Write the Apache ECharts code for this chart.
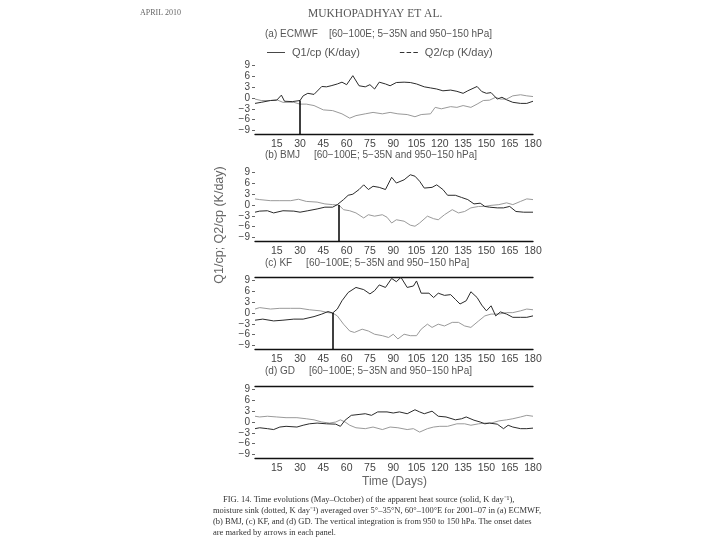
<!DOCTYPE html>
<html><head><meta charset="utf-8">
<script src="https://cdn.jsdelivr.net/npm/echarts/dist/echarts.min.js"></script>
<style>html,body{margin:0;padding:0;background:#fff;}#c{width:720px;height:540px;}</style>
</head><body><div id="c"></div>
<script>
// ---- data (days since 1 May, K/day) ----
const xTicks = [15,30,45,60,75,90,105,120,135,150,165,180];
const yTicks = [-9,-6,-3,0,3,6,9];
const panelTitles = [
  "(a) ECMWF    [60\u2212100E; 5\u221235N and 950\u2212150 hPa]",
  "(b) BMJ     [60\u2212100E; 5\u221235N and 950\u2212150 hPa]",
  "(c) KF     [60\u2212100E; 5\u221235N and 950\u2212150 hPa]",
  "(d) GD     [60\u2212100E; 5\u221235N and 950\u2212150 hPa]"
];
const onsetDays = [30, 55, 51, null];
const onsetStart = [-0.7, 0, 0, null];

const aQ1Days = [1,5,11,15,18,20,25,30,32,35,39,44,47,50,54,57,60,64,68,72,75,78,81,85,88,92,97,101,105,110,114,118,122,127,131,135,138,144,147,150,153,157,160,163,167,172,176,180];
const aQ1 = [-1.5,-1.2,-0.7,-0.6,0.8,-0.9,-1,-0.7,0.6,1.3,1,3.2,3.1,3.4,3.9,4.4,3.7,6.2,3.4,3.1,3.7,2.5,4.4,3.9,3.4,4.3,4.4,4.3,3.9,3.1,2.8,2.5,2,2.2,1.85,1.3,2,3.2,1.8,1.3,1.5,-0.3,0.2,-0.5,-1.2,-1.5,-1.5,-0.9];
const aQ2Days = [1,5,11,15,19,26,30,34,39,45,51,57,62,66,72,77,83,88,93,99,104,108,114,117,121,127,131,135,140,144,148,152,156,159,163,167,172,176,180];
const aQ2 = [-0.3,-0.7,-0.7,-0.5,-1.2,-1.2,-1.7,-1.7,-2.1,-3.3,-3.5,-4.4,-5.6,-4.9,-4.4,-4,-4.4,-4,-4.4,-4.6,-5.2,-4.6,-4.4,-2.6,-3,-2.4,-2.6,-2.1,-2.6,-1.7,-0.7,-0.6,0.2,-0.3,-0.3,0.6,0.9,0.6,0.4];

const bQ1Days = [1,4,9,13,19,26,30,35,41,46,51,54,58,61,64,68,71,74,77,81,85,89,92,97,101,104,107,110,115,118,122,125,130,134,138,142,146,149,152,157,161,165,169,174,180];
const bQ1 = [-2,-1.7,-1.6,-2.2,-1.6,-1.7,-2,-1.6,-1.1,-0.6,-0.6,0.1,1.5,2.7,3,4.3,5.6,4.3,5.2,4.9,4.3,7.7,6.1,7,8.4,8,6.6,4.7,4.9,5.6,4.3,2.7,2.7,2.1,1.5,0.3,0.5,-0.4,-0.6,-0.8,-0.8,-0.4,-1.8,-2,-2];
const bQ2Days = [1,4,11,17,24,29,34,41,46,51,55,58,62,66,71,74,78,83,86,89,92,97,101,104,107,112,116,119,123,128,132,136,140,145,149,153,158,163,167,172,176,180];
const bQ2 = [1.7,1.5,1.2,1.2,1.2,1.6,1,0.8,0.3,0.1,0,-1.3,-1.6,-2.2,-3.6,-2.7,-3.1,-2.7,-3.4,-5,-4.1,-4.5,-5.6,-5.9,-5,-3.1,-3.8,-4.1,-2.7,-1.3,-2.2,-1.8,-0.8,-0.4,-0.4,-0.1,0.1,0.6,0.1,1,1.7,1.5];

const cQ1Days = [1,6,13,19,26,32,39,44,48,51,54,57,61,66,71,75,78,81,85,89,92,95,99,103,105,108,113,116,119,123,127,130,133,137,140,144,147,150,153,156,159,163,167,172,176,180];
const cQ1 = [-2,-1.7,-2.2,-2,-1.7,-1.7,-1,-0.3,0.4,0,1.1,3.4,5.7,7.1,6.5,5.3,6.2,7.8,7.1,9.6,8.7,9.9,7.1,7.5,8.9,5.5,5.5,4.3,5.5,4.9,5.1,3.8,2.5,3.4,5.9,4.3,2.2,0.6,2,-0.8,0.3,-0.3,-1.2,-1.2,-1.2,-0.8];
const cQ2Days = [1,4,11,17,24,30,36,43,48,51,54,58,62,65,70,74,78,83,87,90,93,97,101,105,108,112,115,119,123,128,132,136,140,145,149,153,158,163,167,172,176,180];
const cQ2 = [1.1,1.5,1.1,1.3,1.3,1.3,0.9,0.6,0.1,0,-0.8,-3.1,-5,-5.4,-4.5,-5,-5.9,-6.3,-6.8,-5.9,-7.2,-5.9,-6.3,-6.3,-4.5,-3.1,-4,-3.1,-3.6,-2.6,-2.6,-3.6,-4,-2.2,-0.8,-0.3,-0.3,0.1,0.1,0.6,1.1,0.9];

const dQ1Days = [1,4,9,13,17,21,28,32,36,41,47,53,56,59,63,68,72,76,80,86,90,94,99,104,107,110,115,119,124,130,134,137,142,146,149,152,157,161,164,167,172,176,180];
const dQ1 = [-1.85,-1.6,-1.85,-2.1,-1.4,-1.2,-1.4,-0.9,-0.5,-0.3,-0.5,-0.6,-1.2,0.5,1.85,2.1,2.3,1.85,2.8,2.8,2.5,2.8,2.3,3.4,2.8,2.3,3,1.6,1.4,0.6,0.9,1.4,0.5,0,-0.5,-0.3,-0.6,-1.85,-0.9,-1.4,-1.85,-1.85,-1.7];
const dQ2Days = [1,4,9,15,21,28,34,39,44,49,53,56,59,62,66,72,77,83,88,93,99,103,107,112,116,120,125,131,136,140,145,149,153,158,163,167,172,176,180];
const dQ2 = [1.6,1.4,1.6,1.4,1.2,1.2,0.9,0.6,0,-0.3,0,0.6,0,-0.9,-1.6,-1.85,-1.4,-2.1,-1.4,-1.6,-2.1,-1.85,-2.8,-1.85,-1.4,-1.2,-1.2,-0.5,-0.5,-0.9,-0.5,-0.3,-0.3,0.3,0.6,0.9,1.4,1.85,1.6];

const q1Sets = [[aQ1Days,aQ1],[bQ1Days,bQ1],[cQ1Days,cQ1],[dQ1Days,dQ1]];
const q2Sets = [[aQ2Days,aQ2],[bQ2Days,bQ2],[cQ2Days,cQ2],[dQ2Days,dQ2]];
const topLine = [false,false,true,true];

// ---- layout ----
const gridTops = [62,169,277,386];
const Q1NAME = "Q1/cp (K/day)", Q2NAME = "Q2/cp (K/day)";
const zip = (d,v) => d.map((x,i)=>[x,v[i]]);
const fmt = v => (v<0 ? "\u2212"+(-v) : String(v));

const grid = [], xAxis = [], yAxis = [], series = [];
gridTops.forEach((t,i)=>{
  grid.push({left:255, width:278, top:t, height:72});
  xAxis.push({type:'value', gridIndex:i, min:1, max:180,
    axisLine:{show:true, onZero:false, lineStyle:{color:'#111', width:1.3}},
    axisTick:{show:false},
    axisLabel:{show:true, customValues:xTicks, showMinLabel:true, showMaxLabel:true, color:'#444', fontSize:10.5, fontFamily:'Liberation Sans', margin:5},
    splitLine:{show:false}});
  yAxis.push({type:'value', gridIndex:i, min:-10, max:10,
    axisLine:{show:false, onZero:false},
    axisTick:{show:true, customValues:yTicks, length:3, lineStyle:{color:'#666'}},
    axisLabel:{show:true, customValues:yTicks, interval:0, showMinLabel:true, showMaxLabel:true, hideOverlap:false,
      formatter:fmt, color:'#444', fontSize:10, lineHeight:8, fontFamily:'Liberation Sans', margin:5},
    splitLine:{show:false}});
  const q1 = {name:Q1NAME, type:'line', xAxisIndex:i, yAxisIndex:i, data:zip(q1Sets[i][0],q1Sets[i][1]),
    symbol:'none', lineStyle:{color:'#2b2b2b', width:1}, itemStyle:{color:'#2b2b2b'}, z:3};
  if (onsetDays[i] !== null) {
    q1.markLine = {silent:true, symbol:['none','none'], label:{show:false},
      lineStyle:{color:'#000', width:1.5, type:'solid'},
      data:[[{coord:[onsetDays[i], onsetStart[i]]},{coord:[onsetDays[i], -10]}]]};
  }
  series.push(q1);
  series.push({name:Q2NAME, type:'line', xAxisIndex:i, yAxisIndex:i, data:zip(q2Sets[i][0],q2Sets[i][1]),
    symbol:'none', lineStyle:{color:'#9a9a9a', width:1}, itemStyle:{color:'#9a9a9a'}, z:2});
});
topLine.forEach((show,i)=>{
  if (!show) return;
  xAxis.push({type:'value', gridIndex:i, min:1, max:180, position:'top',
    axisLine:{show:true, onZero:false, lineStyle:{color:'#111', width:1.3}}, axisTick:{show:false}, axisLabel:{show:false}, splitLine:{show:false}});
});

const titleY = [35,156,264,372];
const graphic = [];
panelTitles.forEach((s,i)=>{
  graphic.push({type:'text', left:265, top:titleY[i]-6, style:{text:s, font:'10px "Liberation Sans"', fill:'#555'}});
});
graphic.push({type:'text', left:140, top:9, style:{text:'APRIL 2010', font:'8px "Liberation Serif"', fill:'#666'}});
graphic.push({type:'text', left:308, top:8, style:{text:'MUKHOPADHYAY ET AL.', font:'11.5px "Liberation Serif"', fill:'#555'}});
graphic.push({type:'text', x:220, y:225, rotation:Math.PI/2,
  style:{text:'Q1/cp; Q2/cp (K/day)', font:'12.5px "Liberation Sans"', fill:'#666', align:'center', verticalAlign:'middle', textAlign:'center', textVerticalAlign:'middle'}});
graphic.push({type:'text', left:362, top:476, style:{text:'Time (Days)', font:'12px "Liberation Sans"', fill:'#666'}});
const caption = [
  ["FIG. 14. Time evolutions (May\u2013October) of the apparent heat source (solid, K day\u207B\u00B9),", 223],
  ["moisture sink (dotted, K day\u207B\u00B9) averaged over 5\u00B0\u201335\u00B0N, 60\u00B0\u2013100\u00B0E for 2001\u201307 in (a) ECMWF,", 213],
  ["(b) BMJ, (c) KF, and (d) GD. The vertical integration is from 950 to 150 hPa. The onset dates", 213],
  ["are marked by arrows in each panel.", 213]
];
caption.forEach((c,i)=>{
  graphic.push({type:'text', left:c[1], top:495+i*11, style:{text:c[0], font:'8.5px "Liberation Serif"', fill:'#333'}});
});

const solidIcon = 'path://M0,0h20v1h-20z';
const dashIcon = 'path://M0,0h5v1h-5z M7.5,0h5v1h-5z M15,0h5v1h-5z';
const chart = echarts.init(document.getElementById('c'), null, {renderer:'canvas'});
chart.setOption({
  animation:false,
  backgroundColor:'#fff',
  grid, xAxis, yAxis, series, graphic,
  legend:{left:262, top:42, itemGap:40, itemWidth:18, itemHeight:1.2,
    textStyle:{color:'#555', fontSize:11, fontFamily:'Liberation Sans', padding:[0,0,0,2]},
    data:[{name:Q1NAME, icon:solidIcon, itemStyle:{color:'#333'}},
          {name:Q2NAME, icon:dashIcon, itemStyle:{color:'#333'}}]}
});
</script></body></html>
